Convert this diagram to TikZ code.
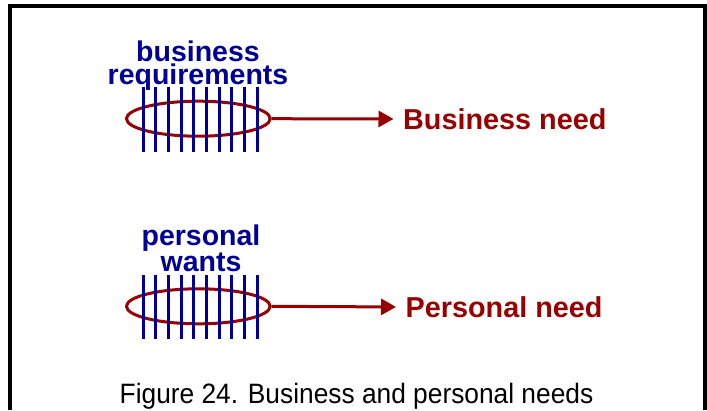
\documentclass[tikz,border=0pt]{standalone}
\usepackage{fontspec}
\usepackage{graphicx}
\setmainfont{Liberation Sans}
\usetikzlibrary{arrows.meta,shapes.geometric}
\definecolor{navy}{RGB}{0,0,153}
\definecolor{darkred}{RGB}{153,0,0}
\tikzset{
  bluelabel/.style={text=navy,inner sep=0pt,align=center,anchor=base,
    font=\fontsize{28.5}{23.3}\selectfont\bfseries},
  needlabel/.style={text=darkred,inner sep=0pt,anchor=base west,
    font=\fontsize{28.8}{30}\selectfont\bfseries},
  ring/.style={draw=darkred,line width=3pt,ellipse,inner sep=0pt,
    minimum width=143.7pt,minimum height=35pt},
  bar/.style={draw=navy,line width=3pt},
  needarrow/.style={draw=darkred,line width=3pt,
    -{Triangle[length=15pt,width=16pt]},shorten >=9.5pt},
  frameline/.style={line width=4pt},
  caption/.style={inner sep=0pt,anchor=base,font=\fontsize{28}{30}\selectfont}
}
\begin{document}
\begin{tikzpicture}[x=1pt,y=-1pt]
\useasboundingbox (0,0) rectangle (707,410);
% frame
\draw[frameline] (10,410) -- (10,6) -- (705,6) -- (705,410);
% top group
\node[ring] (ell1) at (198.3,118.7) {};
\foreach \i in {0,...,9}{
  \draw[bar] (143.3+\i*12.67,86.7) -- (143.3+\i*12.67,151.7);
}
\node[bluelabel] (req) at (198,84.7) {business\\requirements};
\node[needlabel] (need1) at (403,129.3) {Business need};
\draw[needarrow] (ell1.east) -- (need1.west);
% bottom group
\node[ring] (ell2) at (198.3,306.3) {};
\foreach \i in {0,...,9}{
  \draw[bar] (143.3+\i*12.67,275) -- (143.3+\i*12.67,339.3);
}
\node[bluelabel,font=\fontsize{28.5}{18.7}\selectfont\bfseries] (wants) at (201,271) {personal\\wants};
\node[needlabel] (need2) at (405.5,317.3) {Personal need};
\draw[needarrow] (ell2.east) -- (need2.west);
% caption
\node[caption] (cap) at (356.5,403.3) {\scalebox{0.94}[1]{Figure 24. Business and personal needs}};
\end{tikzpicture}
\end{document}
